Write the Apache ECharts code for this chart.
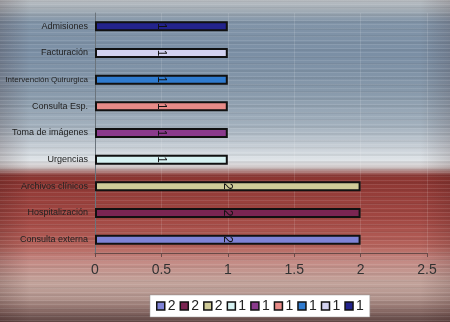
<!DOCTYPE html>
<html>
<head>
<meta charset="utf-8">
<script src="https://cdn.jsdelivr.net/npm/echarts@6/dist/echarts.min.js"></script>
<style>
html,body{margin:0;padding:0;}
#chart{
  width:450px;height:322px;
  background:
    repeating-linear-gradient(to bottom, rgba(255,255,255,0.10) 0px, rgba(255,255,255,0.10) 1px, rgba(0,0,0,0) 1px, rgba(0,0,0,0) 4px),
    repeating-linear-gradient(to bottom, rgba(0,0,0,0.05) 0px, rgba(0,0,0,0.05) 2px, rgba(0,0,0,0) 2px, rgba(0,0,0,0) 7px),
    linear-gradient(to right, rgba(40,10,10,0.18) 0px, rgba(0,0,0,0) 30px, rgba(0,0,0,0) 420px, rgba(40,10,10,0.15) 450px),
    linear-gradient(to bottom,
      #b9bec3 0px, #a3adb6 10px, #8194a8 22px, #7b8fa5 55px, #8698aa 90px,
      #a2b0bd 125px, #c4ccd4 145px, #dfe4e8 160px, #d0c8c8 167px,
      #8a3430 176px, #963e3a 195px, #a24843 220px, #b5625b 245px,
      #c48b85 262px, #c3a39b 282px, #b3958e 298px, #8c6d68 310px, #5d4442 322px);
}
</style>
</head>
<body>
<div id="chart"></div>
<script>
const categories = ['Consulta externa','Hospitalización','Archivos clínicos','Urgencias','Toma de imágenes','Consulta Esp.','Intervención Quirurgica','Facturación','Admisiones'];
const values = [2, 2, 2, 1, 1, 1, 1, 1, 1];
const colors = ['#7f83d6','#7a2552','#cfcb98','#d6f2f2','#8a3a8c','#e88b88','#2f7bcf','#d2d2f0','#23238c'];
const xTicks = [0, 0.5, 1, 1.5, 2, 2.5];

const chart = echarts.init(document.getElementById('chart'));

const series = categories.map((name, i) => ({
  name: name,
  type: 'bar',
  stack: 'all',
  barWidth: 10,
  data: categories.map((c, j) => j === i ? values[i] : null),
  itemStyle: { color: colors[i], borderColor: '#111', borderWidth: 2 },
  label: {
    show: true, position: 'inside', rotate: -90,
    fontFamily: 'Liberation Sans', fontSize: 12, color: '#111',
    formatter: p => String(p.value)
  }
}));

chart.setOption({
  backgroundColor: 'transparent',
  animation: false,
  grid: { left: 95, right: 23, top: 13, bottom: 69, outerBoundsMode: 'none', containLabel: false },
  xAxis: {
    type: 'value', min: xTicks[0], max: xTicks[xTicks.length - 1], interval: 0.5,
    axisLine: { show: true, lineStyle: { color: '#6a4a48', width: 1 } },
    axisTick: { show: true, length: 4, lineStyle: { color: '#6a4a48' } },
    axisLabel: { fontFamily: 'Liberation Sans', fontSize: 14, color: '#333', margin: 10 },
    splitLine: { show: true, lineStyle: { color: 'rgba(255,255,255,0.12)' } }
  },
  yAxis: {
    type: 'category', data: categories,
    axisLine: { show: true, lineStyle: { color: '#6b747c', width: 1 } },
    axisTick: { show: false },
    axisLabel: {
      fontFamily: 'Liberation Sans', fontSize: 9, color: '#222', margin: 7,
      formatter: v => v.length > 20 ? '{s|' + v + '}' : v,
      rich: { s: { fontFamily: 'Liberation Sans', fontSize: 8, color: '#222' } }
    }
  },
  legend: {
    left: 150, top: 295,
    data: categories,
    icon: 'rect', itemWidth: 8, itemHeight: 8, itemGap: 4,
    backgroundColor: '#fff', borderColor: '#999', borderWidth: 0.5,
    padding: [4, 6],
    itemStyle: { borderColor: '#111', borderWidth: 1.5 },
    textStyle: { fontFamily: 'Liberation Sans', fontSize: 14, color: '#222', padding: [0, 0, 0, -2] },
    formatter: name => String(values[categories.indexOf(name)])
  },
  series: series
});
</script>
</body>
</html>
